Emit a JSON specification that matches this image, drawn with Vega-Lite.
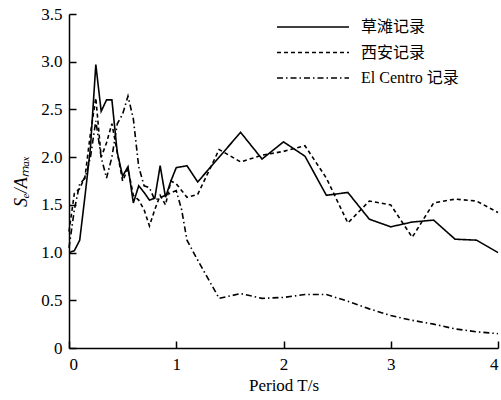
{
  "$schema": "https://vega.github.io/schema/vega-lite/v6.json",
  "width": 429,
  "height": 334,
  "autosize": "none",
  "padding": {"left": 69, "top": 14, "right": 3, "bottom": 52},
  "background": "white",
  "datasets": {
    "cao": [
      {"T": 0, "v": 1.0}, {"T": 0.05, "v": 1.02}, {"T": 0.1, "v": 1.13}, {"T": 0.15, "v": 1.6},
      {"T": 0.2, "v": 2.1}, {"T": 0.25, "v": 2.97}, {"T": 0.3, "v": 2.48}, {"T": 0.35, "v": 2.6},
      {"T": 0.4, "v": 2.6}, {"T": 0.45, "v": 2.05}, {"T": 0.5, "v": 1.8}, {"T": 0.55, "v": 1.9},
      {"T": 0.6, "v": 1.52}, {"T": 0.65, "v": 1.7}, {"T": 0.7, "v": 1.63}, {"T": 0.75, "v": 1.55},
      {"T": 0.8, "v": 1.57}, {"T": 0.85, "v": 1.91}, {"T": 0.9, "v": 1.58}, {"T": 0.95, "v": 1.75},
      {"T": 1.0, "v": 1.89}, {"T": 1.1, "v": 1.91}, {"T": 1.2, "v": 1.74}, {"T": 1.4, "v": 2.0},
      {"T": 1.6, "v": 2.26}, {"T": 1.8, "v": 1.98}, {"T": 2.0, "v": 2.16}, {"T": 2.2, "v": 2.01},
      {"T": 2.4, "v": 1.6}, {"T": 2.6, "v": 1.63}, {"T": 2.8, "v": 1.35}, {"T": 3.0, "v": 1.27},
      {"T": 3.2, "v": 1.32}, {"T": 3.4, "v": 1.34}, {"T": 3.6, "v": 1.14}, {"T": 3.8, "v": 1.13},
      {"T": 4.0, "v": 1.0}
    ],
    "xian": [
      {"T": 0, "v": 1.22}, {"T": 0.05, "v": 1.62}, {"T": 0.1, "v": 1.67}, {"T": 0.15, "v": 1.8},
      {"T": 0.2, "v": 2.25}, {"T": 0.25, "v": 2.62}, {"T": 0.3, "v": 2.0}, {"T": 0.35, "v": 2.15},
      {"T": 0.4, "v": 2.35}, {"T": 0.45, "v": 2.05}, {"T": 0.5, "v": 1.75}, {"T": 0.55, "v": 1.88},
      {"T": 0.6, "v": 1.6}, {"T": 0.65, "v": 1.55}, {"T": 0.7, "v": 1.45}, {"T": 0.75, "v": 1.28},
      {"T": 0.8, "v": 1.45}, {"T": 0.85, "v": 1.6}, {"T": 0.9, "v": 1.5}, {"T": 0.95, "v": 1.75},
      {"T": 1.0, "v": 1.72}, {"T": 1.1, "v": 1.58}, {"T": 1.2, "v": 1.61}, {"T": 1.4, "v": 2.08},
      {"T": 1.6, "v": 1.95}, {"T": 1.8, "v": 2.02}, {"T": 2.0, "v": 2.06}, {"T": 2.2, "v": 2.12},
      {"T": 2.4, "v": 1.78}, {"T": 2.6, "v": 1.31}, {"T": 2.8, "v": 1.54}, {"T": 3.0, "v": 1.5},
      {"T": 3.2, "v": 1.16}, {"T": 3.4, "v": 1.52}, {"T": 3.6, "v": 1.56}, {"T": 3.8, "v": 1.54},
      {"T": 4.0, "v": 1.42}
    ],
    "elc": [
      {"T": 0, "v": 1.05}, {"T": 0.05, "v": 1.45}, {"T": 0.1, "v": 1.72}, {"T": 0.15, "v": 1.78},
      {"T": 0.2, "v": 2.0}, {"T": 0.25, "v": 2.38}, {"T": 0.3, "v": 2.0}, {"T": 0.35, "v": 1.78},
      {"T": 0.4, "v": 2.0}, {"T": 0.45, "v": 2.35}, {"T": 0.5, "v": 2.45}, {"T": 0.55, "v": 2.64},
      {"T": 0.6, "v": 2.4}, {"T": 0.65, "v": 1.9}, {"T": 0.7, "v": 1.7}, {"T": 0.75, "v": 1.68},
      {"T": 0.8, "v": 1.55}, {"T": 0.9, "v": 1.6}, {"T": 1.0, "v": 1.65}, {"T": 1.05, "v": 1.45},
      {"T": 1.1, "v": 1.13}, {"T": 1.2, "v": 0.92}, {"T": 1.4, "v": 0.52}, {"T": 1.6, "v": 0.57},
      {"T": 1.8, "v": 0.52}, {"T": 2.0, "v": 0.53}, {"T": 2.2, "v": 0.56}, {"T": 2.4, "v": 0.56},
      {"T": 2.6, "v": 0.49}, {"T": 2.8, "v": 0.41}, {"T": 3.0, "v": 0.34}, {"T": 3.2, "v": 0.29},
      {"T": 3.4, "v": 0.25}, {"T": 3.6, "v": 0.2}, {"T": 3.8, "v": 0.17}, {"T": 4.0, "v": 0.15}
    ]
  },
  "layer": [
    {"data": {"name": "cao"}, "transform": [{"calculate": "'草滩记录'", "as": "series"}], "mark": {"type": "line", "color": "black", "strokeWidth": 1.6},
     "encoding": {"x": {"field": "T", "type": "quantitative"}, "y": {"field": "v", "type": "quantitative"}, "strokeDash": {"field": "series", "type": "nominal"}}},
    {"data": {"name": "xian"}, "transform": [{"calculate": "'西安记录'", "as": "series"}], "mark": {"type": "line", "color": "black", "strokeWidth": 1.6},
     "encoding": {"x": {"field": "T", "type": "quantitative"}, "y": {"field": "v", "type": "quantitative"}, "strokeDash": {"field": "series", "type": "nominal"}}},
    {"data": {"name": "elc"}, "transform": [{"calculate": "'El Centro 记录'", "as": "series"}], "mark": {"type": "line", "color": "black", "strokeWidth": 1.6},
     "encoding": {"x": {"field": "T", "type": "quantitative"}, "y": {"field": "v", "type": "quantitative"}, "strokeDash": {"field": "series", "type": "nominal"}}}
  ],
  "resolve": {"scale": {"strokeDash": "shared"}},
  "encoding": {
    "x": {"field": "T", "type": "quantitative",
      "scale": {"domain": [0, 4], "nice": false, "zero": false},
      "axis": {"values": [0, 1, 2, 3, 4], "title": "Period T/s", "labelPadding": 15, "titlePadding": 5}},
    "y": {"field": "v", "type": "quantitative",
      "scale": {"domain": [0, 3.5], "nice": false},
      "axis": {"values": [0, 0.5, 1, 1.5, 2, 2.5, 3, 3.5], "labelExpr": "datum.value == 0 ? '0' : format(datum.value, '.1f')", "title": "Sₑ/Aₘₐₓ", "titleFontStyle": "italic", "titleFontSize": 18, "labelPadding": 14, "titlePadding": 10}},
    "strokeDash": {"field": "series", "type": "nominal",
      "scale": {"domain": ["草滩记录", "西安记录", "El Centro 记录"], "range": [[1, 0], [4, 3], [6, 3, 1.5, 3]]},
      "legend": {"title": null, "orient": "none", "legendX": 236, "legendY": 5, "symbolType": "M-6,0H6", "symbolSize": 144, "symbolStrokeWidth": 1.5, "symbolStrokeColor": "black", "symbolFillColor": "transparent", "labelOffset": 40, "labelFontSize": 16, "labelFont": "Times New Roman, Liberation Serif, Noto Sans CJK SC", "labelColor": "black", "rowPadding": 9.5, "padding": 0}}
  },
  "config": {
    "view": {"stroke": null},
    "axis": {"grid": false, "domainColor": "black", "domainWidth": 1.5, "tickColor": "black", "tickWidth": 1.5, "tickSize": -7,
      "labelFont": "Times New Roman, Liberation Serif", "labelFontSize": 17, "labelColor": "black",
      "titleFont": "Times New Roman, Liberation Serif", "titleFontSize": 17, "titleFontWeight": "normal", "titleColor": "black"}
  }
}
